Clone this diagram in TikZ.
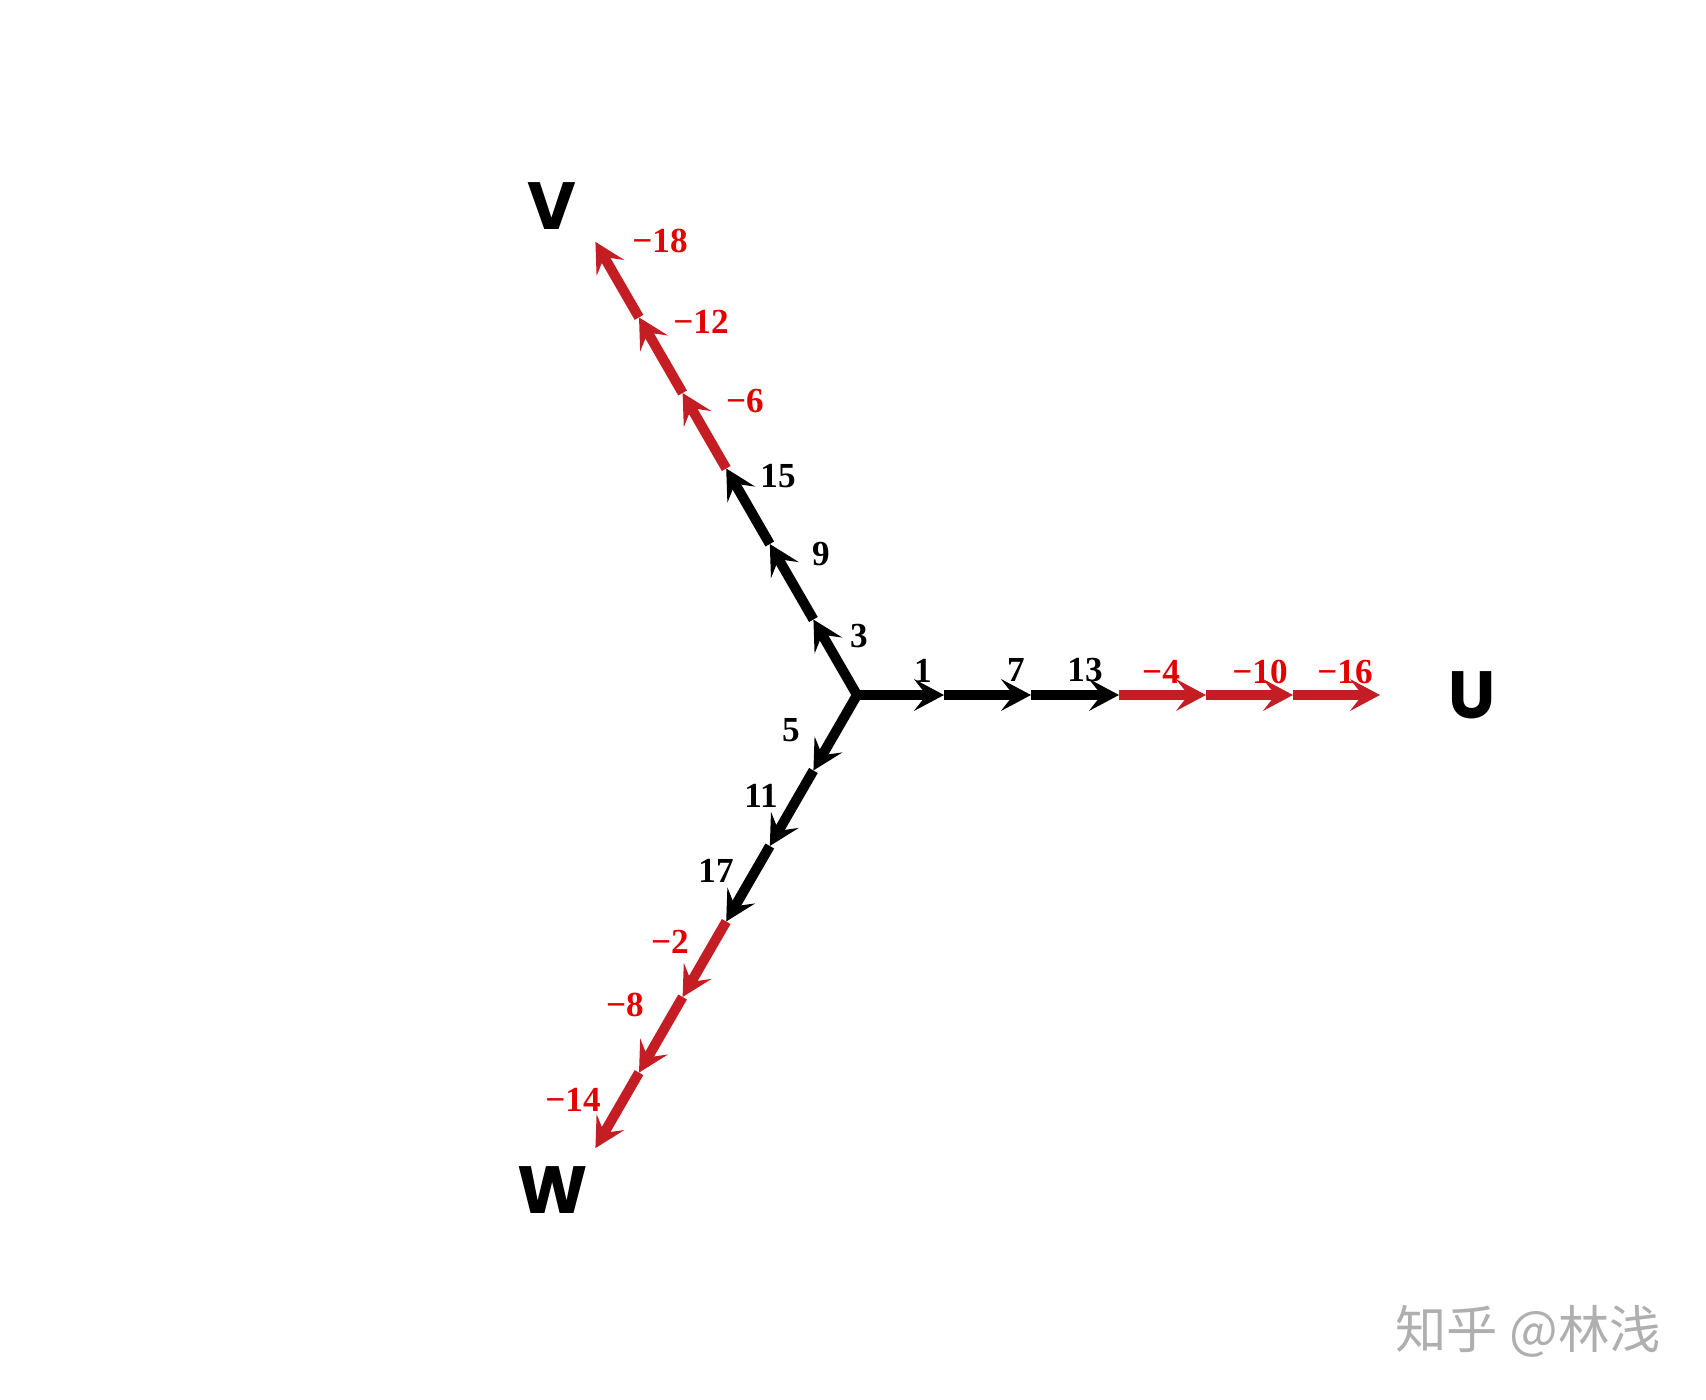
\documentclass[tikz,border=0pt]{standalone}
\usepackage{fontspec}
\setmainfont{Liberation Serif}
\newfontfamily\uvwfont{Poppins}
\newfontfamily\cjkfont{Noto Sans CJK SC}
\usetikzlibrary{arrows.meta}
\definecolor{phred}{RGB}{196,30,36}
\definecolor{txtred}{RGB}{226,0,0}
\definecolor{wmgray}{RGB}{175,175,175}
\begin{document}
\begin{tikzpicture}[x=0.01cm,y=-0.01cm,
  seg/.style={line width=2.85pt, -{Stealth[length=8.5pt,width=9pt,inset=3.5pt]}},
  blk/.style={seg, draw=black},
  rd/.style={seg, draw=phred},
  num/.style={font=\fontsize{10}{12}\selectfont\bfseries, inner sep=0pt},
  rnum/.style={num, text=txtred},
  phase/.style={font=\uvwfont\fontsize{19}{22}\selectfont\bfseries, inner sep=0pt},
]
\useasboundingbox (0,0) rectangle (1706,1400);
\coordinate (O) at (857,695);
% U branch
\coordinate (u1) at (944,695);
\coordinate (u2) at (1031,695);
\coordinate (u3) at (1119,695);
\coordinate (u4) at (1206,695);
\coordinate (u5) at (1293,695);
\coordinate (u6) at (1380,695);
% V branch
\coordinate (v1) at (813.4,619.5);
\coordinate (v2) at (769.8,544.0);
\coordinate (v3) at (726.2,468.5);
\coordinate (v4) at (682.6,393.0);
\coordinate (v5) at (639.0,317.4);
\coordinate (v6) at (595.4,241.9);
% W branch
\coordinate (w1) at (813.4,770.5);
\coordinate (w2) at (769.8,846.0);
\coordinate (w3) at (726.2,921.5);
\coordinate (w4) at (682.6,997.0);
\coordinate (w5) at (639.0,1072.6);
\coordinate (w6) at (595.4,1148.1);

\draw[blk] (O) -- (u1);
\draw[blk] (u1) -- (u2);
\draw[blk] (u2) -- (u3);
\draw[rd] (u3) -- (u4);
\draw[rd] (u4) -- (u5);
\draw[rd] (u5) -- (u6);

\draw[blk] (O) -- (v1);
\draw[blk] (v1) -- (v2);
\draw[blk] (v2) -- (v3);
\draw[rd] (v3) -- (v4);
\draw[rd] (v4) -- (v5);
\draw[rd] (v5) -- (v6);

\draw[blk] (O) -- (w1);
\draw[blk] (w1) -- (w2);
\draw[blk] (w2) -- (w3);
\draw[rd] (w3) -- (w4);
\draw[rd] (w4) -- (w5);
\draw[rd] (w5) -- (w6);

% U labels
\node[num] (l1) at (923,671) {1};
\node[num] (l7) at (1016,670) {7};
\node[num] (l13) at (1085,670) {13};
\node[rnum] (lm4) at (1161,672) {−4};
\node[rnum] (lm10) at (1260,672) {−10};
\node[rnum] (lm16) at (1345,672) {−16};
% V labels
\node[num] (l3) at (859,636) {3};
\node[num] (l9) at (821,554) {9};
\node[num] (l15) at (778,476) {15};
\node[rnum] (lm6) at (745,401) {−6};
\node[rnum] (lm12) at (701,322) {−12};
\node[rnum] (lm18) at (660,241) {−18};
% W labels
\node[num] (l5) at (791,730) {5};
\node[num] (l11) at (761,796) {11};
\node[num] (l17) at (716,871) {17};
\node[rnum] (lm2) at (670,942) {−2};
\node[rnum] (lm8) at (625,1005) {−8};
\node[rnum] (lm14) at (573,1100) {−14};

% phase names
\node[phase] (U) at (1472,695) {U};
\node[phase] (V) at (552,206) {V};
\node[phase] (W) at (553,1190) {W};

% watermark
\node[font=\cjkfont\fontsize{14.6}{16}\selectfont, text=wmgray, inner sep=0pt] (wm) at (1528,1331) {知乎 @林浅};
\end{tikzpicture}
\end{document}
